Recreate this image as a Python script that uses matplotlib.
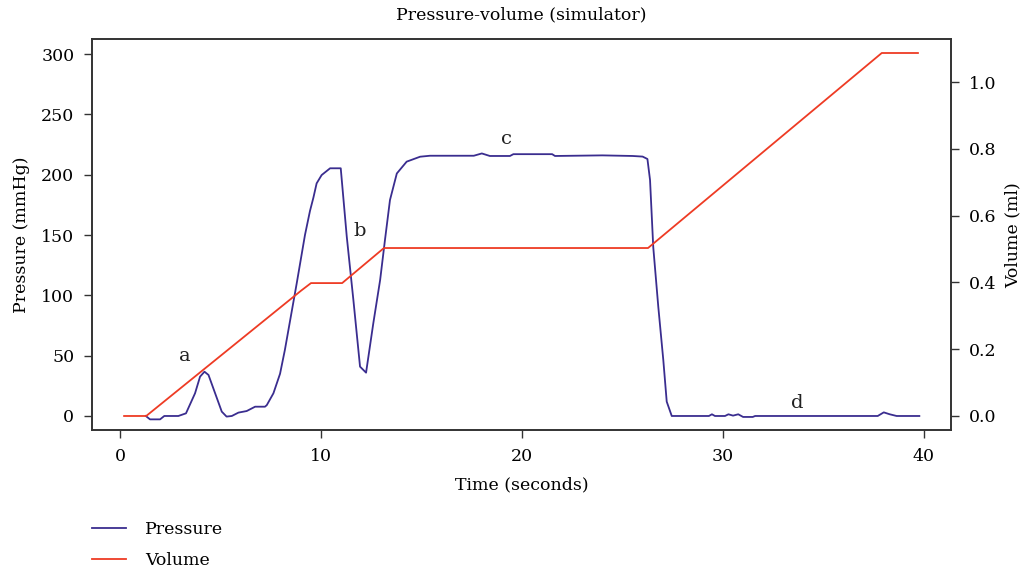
import matplotlib
matplotlib.use("Agg")
import matplotlib.pyplot as plt

plt.rcParams['font.family'] = ['DejaVu Serif']

# Pressure trace (seconds, mmHg)
p_time = [1.28, 1.49, 1.99, 2.2, 2.9, 3.28, 3.73, 3.98, 4.2, 4.4, 4.73, 5.06, 5.3, 5.56,
          5.89, 6.3, 6.72, 7.21, 7.3, 7.63, 7.96, 8.2, 8.79, 9.2, 9.45, 9.62, 9.78, 10.03, 10.45,
          10.98, 11.28, 11.61, 11.94, 12.24, 12.6, 12.94, 13.18, 13.43, 13.77, 14.26, 14.93,
          15.42, 17.6, 18.0, 18.4, 19.4, 19.57, 21.5, 21.64, 24.0, 25.5, 26.0, 26.24, 26.37,
          26.53, 26.78, 27.03, 27.2, 27.45, 29.3, 29.45, 29.6, 30.1, 30.27, 30.5, 30.76, 31.0,
          31.48, 31.6, 37.7, 38.0, 38.3, 38.64, 39.77]
pressure = [0, -2.8, -2.8, 0, 0, 2.2, 18.8, 32.6, 36.7, 34, 18.8, 3.6, -0.5, 0,
            2.8, 4.1, 7.7, 7.7, 9, 18.8, 35, 54.7, 110, 150, 170, 181, 192.8, 199.7, 205.3,
            205.3, 148.6, 96, 40.9, 35.9, 76.8, 112.7, 145.8, 179, 201, 210.8, 214.9,
            215.7, 215.7, 217.6, 215.5, 215.5, 217, 217, 215.5, 216, 215.5, 215, 213, 195.6,
            140, 90.6, 46.4, 11.9, 0, 0, 1.4, 0, 0, 1.4, 0.3, 1.4, -0.8,
            -0.8, 0, 0, 3, 1.4, 0, 0]

# Volume trace (seconds, ml)
v_time = [0.2, 1.3, 9.0, 9.5, 11.05, 13.13, 26.27, 37.9, 39.7]
volume = [0.0, 0.0, 0.375, 0.398, 0.398, 0.503, 0.503, 1.087, 1.087]

annotations = [("a", 3.23, 49.7), ("b", 11.94, 153), ("c", 19.25, 229.5), ("d", 33.7, 10.8)]

blue = '#3a2d8f'
red = '#ee3b24'
spine_col = '#333333'

fig = plt.figure(figsize=(10.26, 5.73), dpi=100)
ax = fig.add_axes([0.090, 0.2496, 0.8366, 0.6818])
ax2 = ax.twinx()

lp, = ax.plot(p_time, pressure, color=blue, lw=1.3, label='Pressure')
lv, = ax2.plot(v_time, volume, color=red, lw=1.3, label='Volume')

ax.set_xlim(-1.38, 41.33)
ax.set_ylim(-11.6, 312.2)
ax2.set_ylim(-0.0419, 1.128)
ax.set_xticks([0, 10, 20, 30, 40])
ax.set_yticks([0, 50, 100, 150, 200, 250, 300])
ax2.set_yticks([0.0, 0.2, 0.4, 0.6, 0.8, 1.0])
ax2.set_yticklabels(['0.0', '0.2', '0.4', '0.6', '0.8', '1.0'])

fs = 12.5
ax.set_xlabel('Time (seconds)', fontsize=fs, labelpad=8)
ax.set_ylabel('Pressure (mmHg)', fontsize=fs, labelpad=8)
ax2.set_ylabel('Volume (ml)', fontsize=fs, labelpad=6)
ax.set_title('Pressure-volume (simulator)', fontsize=fs, pad=14)

for a in (ax, ax2):
    a.tick_params(labelsize=fs, length=6, width=1, color=spine_col, pad=7)
    for s in a.spines.values():
        s.set_color(spine_col)
        s.set_linewidth(1.2)

for txt, x, y in annotations:
    ax.text(x, y, txt, fontsize=14, ha='center', va='center', color='#222222')

fig.legend(handles=[lp, lv], loc='upper left', bbox_to_anchor=(0.074, 0.118),
           frameon=False, fontsize=fs, handlelength=2.0, handletextpad=1.1,
           labelspacing=0.8)

fig.savefig('out.png', dpi=100)
